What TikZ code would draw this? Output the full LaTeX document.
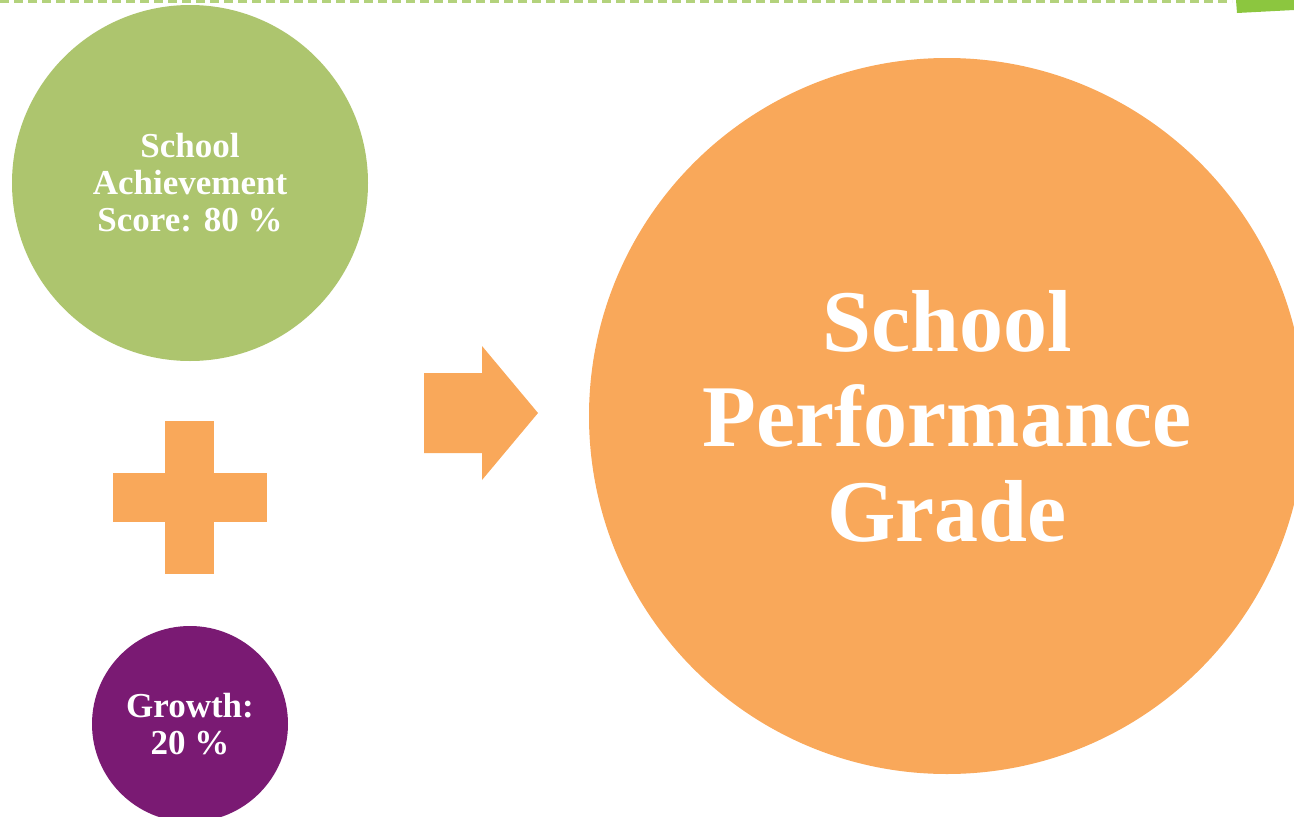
\documentclass[tikz,border=0pt]{standalone}
\usepackage{fontspec}
\setmainfont{Liberation Serif}
\definecolor{achgreen}{HTML}{ADC56E}
\definecolor{dashgreen}{HTML}{B3D27C}
\definecolor{badgegreen}{HTML}{8CC63F}
\definecolor{gradeorange}{HTML}{F9A85A}
\definecolor{growthpurple}{HTML}{7A1A73}
\begin{document}
\begin{tikzpicture}[x=1pt,y=-1pt,
  bubble/.style={circle,inner sep=0pt,text=white,align=center}]
  \useasboundingbox (0,0) rectangle (1294,817);
  \clip (0,0) rectangle (1294,817);
  % top rule and corner badge
  \draw[dashgreen,line width=3pt,dash pattern=on 9pt off 5pt] (0,1) -- (1232,1);
  \fill[badgegreen] (1236,0) -- (1294,0) -- (1294,10) -- (1237,13) -- cycle;
  % circles
  \node[bubble,fill=achgreen,minimum size=356pt,
    font=\bfseries\fontsize{35}{37}\selectfont] (ach) at (190,183)
    {School\\Achievement\\Score: 80 \%};
  \node[bubble,fill=growthpurple,minimum size=196pt,
    font=\bfseries\fontsize{35}{37}\selectfont] (growth) at (190,724)
    {Growth:\\20 \%};
  \node[bubble,fill=gradeorange,minimum size=716pt,
    font=\bfseries\fontsize{88}{95}\selectfont] (spg) at (947,416)
    {School\\Performance\\Grade};
  % plus sign
  \fill[gradeorange] (165,421) rectangle (214,574);
  \fill[gradeorange] (113,473) rectangle (267,522);
  % arrow
  \fill[gradeorange] (424,373) -- (482,373) -- (482,346) -- (538,413)
    -- (482,480) -- (482,453) -- (424,453) -- cycle;
\end{tikzpicture}
\end{document}
